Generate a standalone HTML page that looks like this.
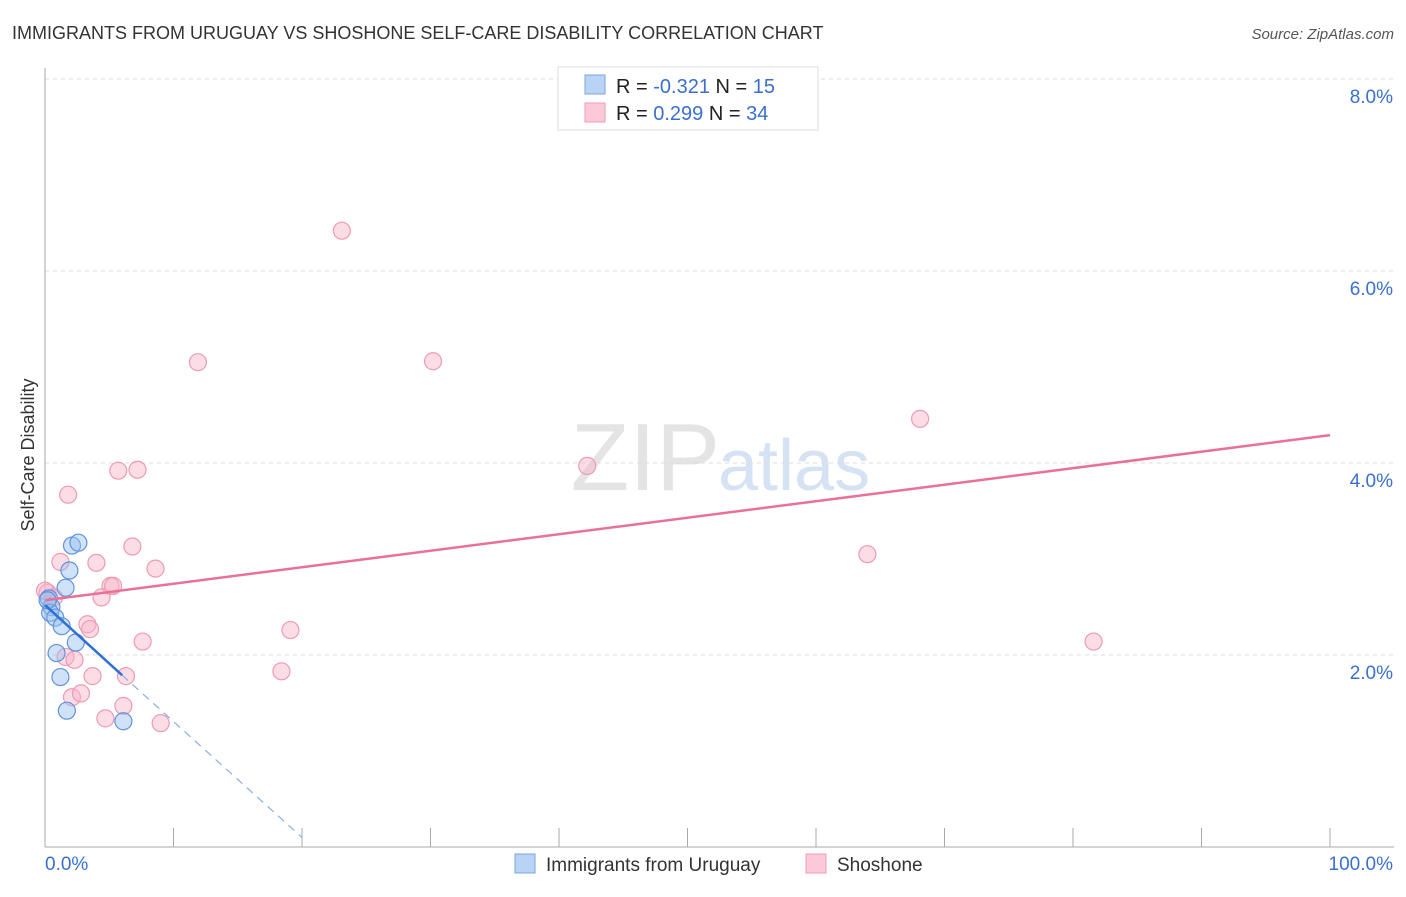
<!DOCTYPE html>
<html><head><meta charset="utf-8"><style>
body{margin:0;background:#fff;font-family:"Liberation Sans",sans-serif}
svg text{font-family:"Liberation Sans",sans-serif}
</style></head><body>
<svg id="c" width="1406" height="892">
<text x="12" y="39" font-size="18" fill="#333">IMMIGRANTS FROM URUGUAY VS SHOSHONE SELF-CARE DISABILITY CORRELATION CHART</text>
<text x="1394" y="39" font-size="15" fill="#555" text-anchor="end" font-style="italic">Source: ZipAtlas.com</text>
<text x="720" y="490" font-size="96" fill="#e4e4e4" text-anchor="end" font-family="Liberation Serif">ZIP</text>
<text x="718" y="490" font-size="72" fill="#d5e2f3">atlas</text>
<g id="grid"></g><g id="axes"></g><g id="marks"></g>
<g>
<rect x="558" y="67" width="260" height="63" fill="#fff" stroke="#ddd"/>
<rect x="585" y="75" width="20" height="19" fill="#b9d3f5" stroke="#7aa6e0"/>
<rect x="585" y="103" width="20" height="19" fill="#fcc9d8" stroke="#ef9ab4"/>
<text x="616" y="93" font-size="20" fill="#222">R = <tspan fill="#3a6fd0">-0.321</tspan>   N = <tspan fill="#3a6fd0"> 15</tspan></text>
<text x="616" y="120" font-size="20" fill="#222">R = <tspan fill="#3a6fd0"> 0.299</tspan>   N = <tspan fill="#3a6fd0">34</tspan></text>
</g>
<g>
<rect x="515" y="854" width="20" height="19" fill="#b9d3f5" stroke="#7aa6e0"/>
<text x="546" y="871" font-size="19" fill="#333">Immigrants from Uruguay</text>
<rect x="806" y="854" width="20" height="19" fill="#fcc9d8" stroke="#ef9ab4"/>
<text x="837" y="871" font-size="19" fill="#333">Shoshone</text>
</g>
<text x="34" y="455" font-size="18" fill="#333" transform="rotate(-90 34 455)" text-anchor="middle">Self-Care Disability</text>
</svg>
<script>
const yTicks=[2,4,6,8];
const yTickLabels=["2.0%","4.0%","6.0%","8.0%"];
const blueX=[0.3,0.5,0.4,0.8,1.3,0.9,1.2,1.7,2.1,2.6,1.9,1.6,2.4,6.1,0.2];
const blueY=[2.59,2.5,2.44,2.39,2.3,2.02,1.77,1.42,3.14,3.17,2.88,2.7,2.13,1.31,2.57];
const pinkX=[23.1,11.9,30.2,68.1,42.2,5.7,7.2,1.8,6.8,1.2,4.0,8.6,64.0,5.1,5.3,4.4,0.2,0.7,3.3,3.5,19.1,7.6,81.6,1.6,2.3,3.7,6.3,18.4,2.1,2.8,6.1,4.7,9.0,0.0];
const pinkY=[6.42,5.05,5.06,4.46,3.97,3.92,3.93,3.67,3.13,2.97,2.96,2.9,3.05,2.72,2.72,2.6,2.65,2.6,2.32,2.27,2.26,2.14,2.14,1.98,1.95,1.78,1.78,1.83,1.56,1.6,1.47,1.34,1.29,2.67];
const blueLine=[[0,2.52],[6,1.79]];
const blueDash=[[6,1.79],[20,0.1]];
const pinkLine=[[0,2.57],[100,4.29]];
const X=v=>45+v*12.85, Y=v=>847-v*96;
const ns="http://www.w3.org/2000/svg";
function mk(p,t,a){const e=document.createElementNS(ns,t);for(const k in a)e.setAttribute(k,a[k]);document.getElementById(p).appendChild(e);return e;}
yTicks.forEach((t,i)=>{
 const g=mk('grid','line',{x1:45,x2:1394,y1:Y(t),y2:Y(t),stroke:'#ddd','stroke-dasharray':'4,4'});
 
 
 const l=mk('axes','text',{x:1393,y:Y(t)+24,'font-size':19,fill:'#3a6fd0','text-anchor':'end'});
 l.textContent=yTickLabels[i];
 
 
});
let a=mk('axes','line',{x1:45,x2:45,y1:68,y2:847,stroke:'#aaa'});


a=mk('axes','line',{x1:45,x2:1394,y1:847,y2:847,stroke:'#aaa'});


for(let i=1;i<=10;i++){const t=mk('axes','line',{x1:X(i*10),x2:X(i*10),y1:828,y2:847,stroke:'#aaa'});
 
 }
let t=mk('axes','text',{x:45,y:870,'font-size':19,fill:'#3a6fd0'});t.textContent='0.0%';


t=mk('axes','text',{x:1393,y:870,'font-size':19,fill:'#3a6fd0','text-anchor':'end'});t.textContent='100.0%';


pinkX.forEach((x,i)=>{const c=mk('marks','circle',{cx:X(x),cy:Y(pinkY[i]),r:8.5,fill:'rgba(248,180,200,0.45)',stroke:'#ee9ab3','stroke-width':1.2});
 
 });
blueX.forEach((x,i)=>{const c=mk('marks','circle',{cx:X(x),cy:Y(blueY[i]),r:8.5,fill:'rgba(150,190,240,0.45)',stroke:'#5f93dc','stroke-width':1.2});
 
 });
let L=mk('marks','line',{x1:X(pinkLine[0][0]),y1:Y(pinkLine[0][1]),x2:X(pinkLine[1][0]),y2:Y(pinkLine[1][1]),stroke:'#e8709a','stroke-width':2.5});


L=mk('marks','line',{x1:X(blueLine[0][0]),y1:Y(blueLine[0][1]),x2:X(blueLine[1][0]),y2:Y(blueLine[1][1]),stroke:'#2f6fd6','stroke-width':2.5});


L=mk('marks','line',{x1:X(blueDash[0][0]),y1:Y(blueDash[0][1]),x2:X(blueDash[1][0]),y2:Y(blueDash[1][1]),stroke:'#8aaee6','stroke-width':1.2,'stroke-dasharray':'8,6'});


</script>
</body></html>
